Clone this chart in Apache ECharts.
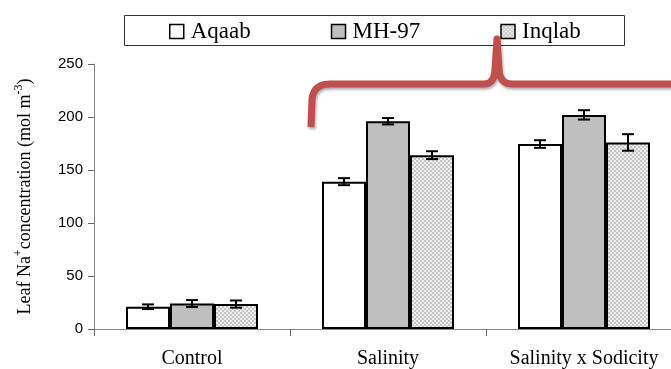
<!DOCTYPE html>
<html>
<head>
<meta charset="utf-8">
<script src="https://cdn.jsdelivr.net/npm/echarts@6/dist/echarts.min.js"></script>
<style>html,body{margin:0;padding:0;background:#fff;overflow:hidden}#c{width:682px;height:369px}</style>
</head>
<body>
<div id="c"></div>
<script>
var categories = ['Control', 'Salinity', 'Salinity x Sodicity'];
var seriesNames = ['Aqaab', 'MH-97', 'Inqlab'];
var aqaab = [21, 139, 174.5];
var mh97 = [24, 196, 202];
var inqlab = [23.5, 164, 176];
var aqaabErr = [2.2, 3.3, 3.6];
var mh97Err = [3.3, 3.0, 4.4];
var inqlabErr = [3.4, 3.7, 7.8];
var yTicks = [0, 50, 100, 150, 200, 250];

var BAR_W = 44;

function checker() {
  var cv = document.createElement('canvas');
  cv.width = 4; cv.height = 4;
  var ctx = cv.getContext('2d');
  ctx.fillStyle = '#eeeeee'; ctx.fillRect(0, 0, 4, 4);
  ctx.fillStyle = '#c4c4c4';
  ctx.fillRect(0, 0, 2, 2); ctx.fillRect(2, 2, 2, 2);
  return cv;
}

// brace annotation outline (quadratic segments sampled into a polyline)
function quad(p0, c, p1, out) {
  for (var t = 0.1; t <= 1.0001; t += 0.1) {
    var u = 1 - t;
    out.push([u * u * p0[0] + 2 * u * t * c[0] + t * t * p1[0], u * u * p0[1] + 2 * u * t * c[1] + t * t * p1[1]]);
  }
}
var brace = [[311, 127], [312, 100]];
quad([312, 100], [313, 84], [330, 84], brace);
brace.push([484, 84]);
quad([484, 84], [494, 84], [495, 70], brace);
brace.push([497, 39]);
brace.push([499, 70]);
quad([499, 70], [500, 84], [512, 84], brace);
brace.push([700, 84]);

var fills = ['#ffffff', '#bfbfbf', { image: checker(), repeat: 'repeat' }];
var values = [aqaab, mh97, inqlab];
var errs = [aqaabErr, mh97Err, inqlabErr];

var series = [];
values.forEach(function (v, k) {
  series.push({
    name: seriesNames[k],
    type: 'bar',
    data: v,
    barWidth: BAR_W,
    barGap: '0%',
    itemStyle: { color: fills[k], borderColor: '#000', borderWidth: 2 },
    emphasis: { disabled: true },
    animation: false,
    z: 2
  });
});
values.forEach(function (v, k) {
  series.push({
    type: 'custom',
    name: 'err' + k,
    data: v.map(function (val, i) { return [i, val, errs[k][i]]; }),
    encode: { x: 0, y: 1 },
    z: 5,
    animation: false,
    silent: true,
    renderItem: function (params, api) {
      var i = api.value(0), val = api.value(1), e = api.value(2);
      var top = api.coord([i, val + e]);
      var bot = api.coord([i, val - e]);
      var x = top[0] + (k - 1) * BAR_W;
      var cap = 6;
      var st = { stroke: '#000', lineWidth: 2 };
      return {
        type: 'group',
        children: [
          { type: 'line', shape: { x1: x, y1: top[1], x2: x, y2: bot[1] }, style: st },
          { type: 'line', shape: { x1: x - cap, y1: top[1], x2: x + cap, y2: top[1] }, style: st },
          { type: 'line', shape: { x1: x - cap, y1: bot[1], x2: x + cap, y2: bot[1] }, style: st }
        ]
      };
    }
  });
});

var chart = echarts.init(document.getElementById('c'), null, { renderer: 'canvas' });
chart.setOption({
  animation: false,
  backgroundColor: '#fff',
  grid: { left: 94, top: 64, right: 0, bottom: 38, containLabel: false },
  legend: {
    data: seriesNames,
    left: 164,
    top: 15,
    itemGap: 80,
    itemWidth: 14,
    itemHeight: 14,
    icon: 'rect',
    itemStyle: { borderColor: '#000', borderWidth: 1.5 },
    textStyle: { fontFamily: 'Liberation Serif', fontSize: 23, color: '#000', padding: [0, 0, 0, 2] },
    selectedMode: false
  },
  xAxis: {
    type: 'category',
    data: categories,
    axisLine: { lineStyle: { color: '#888', width: 1 } },
    axisTick: { show: true, length: 7, lineStyle: { color: '#666' } },
    axisLabel: { interval: 0, fontFamily: 'Liberation Serif', fontSize: 20, color: '#000', margin: 20 }
  },
  yAxis: {
    type: 'value',
    min: 0, max: 250, interval: 50,
    splitLine: { show: false },
    axisLine: { show: true, lineStyle: { color: '#888', width: 1 } },
    axisTick: { show: true, length: 6, lineStyle: { color: '#666' } },
    axisLabel: { fontFamily: 'Liberation Sans', fontSize: 15, color: '#000', margin: 11,
      formatter: function (v) { return yTicks.indexOf(v) >= 0 ? String(v) : ''; } },
    name: '{n|Leaf Na}{s|+}{n|concentration (mol m}{s|-3}{n|)}',
    nameLocation: 'middle',
    nameGap: 57,
    nameRotate: 90,
    nameTextStyle: {
      rich: {
        n: { fontFamily: 'Liberation Serif', fontSize: 18, color: '#000', lineHeight: 22 },
        s: { fontFamily: 'Liberation Serif', fontSize: 12, color: '#000', padding: [0, 0, 12, 0] }
      }
    }
  },
  graphic: [
    { type: 'rect', shape: { x: 124.5, y: 15.5, width: 500, height: 30 },
      style: { fill: null, stroke: '#333', lineWidth: 1 }, z: 10, silent: true },
    { type: 'polyline', z: 20, silent: true,
      shape: { points: brace },
      style: { fill: null, stroke: '#c0504d', lineWidth: 7, lineJoin: 'round', lineCap: 'butt',
        shadowBlur: 3, shadowColor: 'rgba(0,0,0,0.35)', shadowOffsetX: 1, shadowOffsetY: 2 } }
  ],
  series: series
});
</script>
</body>
</html>
